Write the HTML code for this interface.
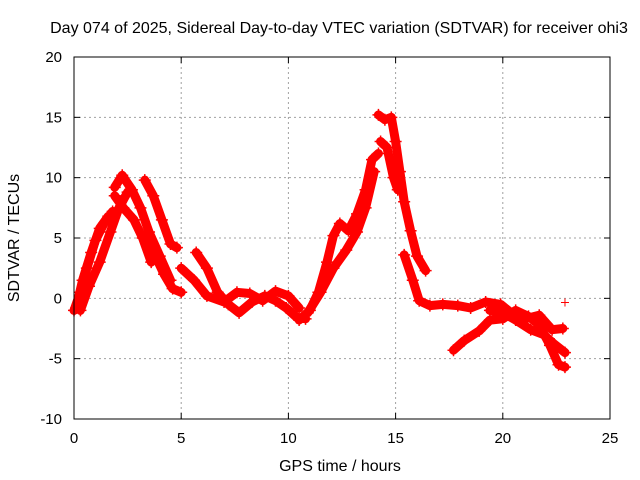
<!DOCTYPE html>
<html><head><meta charset="utf-8"><style>
body{margin:0;background:#fff;}
svg{display:block;font-family:"Liberation Sans",sans-serif;}
</style></head><body>
<svg id="chart" width="640" height="480" viewBox="0 0 640 480" xmlns="http://www.w3.org/2000/svg">
<rect width="640" height="480" fill="#fff"/>
<text x="339" y="33" font-size="16" text-anchor="middle" fill="#000">Day 074 of 2025, Sidereal Day-to-day VTEC variation (SDTVAR) for receiver ohi3</text>
<text transform="translate(19,238) rotate(-90)" font-size="16" text-anchor="middle">SDTVAR / TECUs</text>
<text x="340" y="471" font-size="16" text-anchor="middle">GPS time / hours</text>
<g id="grid"></g>
<g id="ticks"></g>
<g id="marks"></g>
<rect x="74" y="57" width="536" height="362" fill="none" stroke="#000" stroke-width="1"/>
</svg>
<script>
const xTicks=[0,5,10,15,20,25];
const yTicks=[-10,-5,0,5,10,15,20];
const trackA_h=[0,0.3,0.6,1.0,1.4,1.8];
const trackA_v=[-1,0.5,2.5,4.8,6.2,7.2];
const trackB_h=[0.3,0.7,1.2,1.7,2.1,2.5];
const trackB_v=[-1,1,3,5.5,7.5,8.8];
const trackP_h=[0.1,0.4,0.8,1.2,1.6];
const trackP_v=[-0.8,1.5,3.8,5.8,6.8];
const trackC_h=[1.9,2.25,2.7,3.1,3.5,4.0,4.5];
const trackC_v=[9.2,10.2,9.0,7.5,5.5,3.5,1.5];
const trackD_h=[1.9,2.3,2.8,3.2,3.6];
const trackD_v=[8.5,7.5,6.5,5.0,3.0];
const trackE_h=[3.3,3.7,4.1,4.5,4.8];
const trackE_v=[9.8,8.5,6.5,4.5,4.2];
const trackF_h=[3.4,3.8,4.2,4.6,5.0];
const trackF_v=[5.2,3.5,2.0,0.8,0.5];
const trackG_h=[5.7,6.2,6.7,7.2,7.7,8.3,8.9,9.4,9.9,10.4,10.8];
const trackG_v=[3.8,2.5,0.5,-0.5,-1.2,-0.3,0.2,-0.2,-0.8,-1.6,-1.7];
const trackH_h=[5.0,5.6,6.2,7.0,7.6,8.2,8.8,9.4,10.0,10.5];
const trackH_v=[2.5,1.5,0.2,-0.3,0.5,0.4,-0.2,0.6,0.2,-0.8];
const trackI_h=[10.5,11.0,11.4,11.8,12.1,12.4,12.8,13.2,13.6,13.9,14.2];
const trackI_v=[-1.8,-1.0,0.5,3.0,5.2,6.2,5.6,7.0,9.0,11.5,12.0];
const trackJ_h=[10.9,11.5,12.1,12.7,13.2,13.6,14.0];
const trackJ_v=[-1.2,0.5,2.5,4.0,5.5,7.5,10.5];
const trackK_h=[14.2,14.5,14.8,15.0,15.2,15.4,15.7,16.0,16.4];
const trackK_v=[15.2,14.8,15.0,13.0,10.5,8.0,5.6,3.5,2.3];
const trackL_h=[14.3,14.6,14.9,15.1];
const trackL_v=[13.0,12.5,10.0,9.0];
const trackM_h=[15.4,15.8,16.1,16.6,17.2,17.9,18.5,19.2,19.9,20.8,21.7,22.3,22.8];
const trackM_v=[3.6,1.5,-0.2,-0.6,-0.5,-0.6,-0.8,-0.3,-0.5,-1.8,-1.4,-2.6,-2.5];
const trackN_h=[17.7,18.2,18.9,19.4,20.0,20.6,21.2,21.7,22.2,22.6,22.9];
const trackN_v=[-4.3,-3.5,-2.7,-1.8,-1.7,-1.0,-1.5,-2.2,-3.9,-5.5,-5.7];
const trackO_h=[19.4,20.0,20.6,21.3,21.9,22.4,22.9];
const trackO_v=[-1.0,-1.2,-1.8,-2.6,-3.0,-3.8,-4.5];
const lone_h=[22.9];
const lone_v=[-0.35];
const tracks=[[trackA_h,trackA_v],[trackB_h,trackB_v],[trackP_h,trackP_v],[trackC_h,trackC_v],[trackD_h,trackD_v],[trackE_h,trackE_v],[trackF_h,trackF_v],[trackG_h,trackG_v],[trackH_h,trackH_v],[trackI_h,trackI_v],[trackJ_h,trackJ_v],[trackK_h,trackK_v],[trackL_h,trackL_v],[trackM_h,trackM_v],[trackN_h,trackN_v],[trackO_h,trackO_v]];
const X0=74,X1=610,Y0=419,Y1=57;
function sx(h){return X0+(h-0)/(25-0)*(X1-X0);}
function sy(v){return Y0-(v+10)/(30)*(Y0-Y1);}
const NS="http://www.w3.org/2000/svg";
const grid=document.getElementById('grid'),ticks=document.getElementById('ticks'),marks=document.getElementById('marks');
function mk(t,a,p){const e=document.createElementNS(NS,t);for(const k in a)e.setAttribute(k,a[k]);p.appendChild(e);return e;}
xTicks.forEach(t=>{const x=sx(t);
 if(t>0&&t<25){const g=mk('line',{x1:x,x2:x,y1:Y1,y2:Y0,stroke:'#a0a0a0','stroke-dasharray':'2,3'},grid);
 
 }
 mk('line',{x1:x,x2:x,y1:Y0,y2:Y0-6,stroke:'#000'},ticks);mk('line',{x1:x,x2:x,y1:Y1,y2:Y1+6,stroke:'#000'},ticks);
 const l=mk('text',{x:x,y:443,'font-size':15,'text-anchor':'middle'},ticks);l.textContent=t;
 
 });
yTicks.forEach(t=>{const y=sy(t);
 if(t>-10&&t<20){const g=mk('line',{x1:X0,x2:X1,y1:y,y2:y,stroke:'#a0a0a0','stroke-dasharray':'2,3'},grid);
 
 }
 mk('line',{x1:X0,x2:X0+6,y1:y,y2:y,stroke:'#000'},ticks);mk('line',{x1:X1,x2:X1-6,y1:y,y2:y,stroke:'#000'},ticks);
 const l=mk('text',{x:62,y:y+5,'font-size':15,'text-anchor':'end'},ticks);l.textContent=t;
 
 });
tracks.forEach(([hs,vs])=>{
 const pts=hs.map((h,i)=>sx(h).toFixed(1)+','+sy(vs[i]).toFixed(1)).join(' ');
 const pl=mk('polyline',{points:pts,fill:'none',stroke:'#ff0000','stroke-width':9,'stroke-linejoin':'round','stroke-linecap':'round'},marks);
 
 
 hs.forEach((h,i)=>{const x=sx(h),y=sy(vs[i]);
  const p=mk('path',{d:`M${x-6},${y}H${x+6}M${x},${y-6}V${y+6}`,stroke:'#ff0000','stroke-width':1.5},marks);
  
  });
});
lone_h.forEach((h,i)=>{const x=sx(h),y=sy(lone_v[i]);
 const p=mk('path',{d:`M${x-4},${y}H${x+4}M${x},${y-4}V${y+4}`,stroke:'#ff0000','stroke-width':1},marks);
 
 });
</script>
</body></html>
